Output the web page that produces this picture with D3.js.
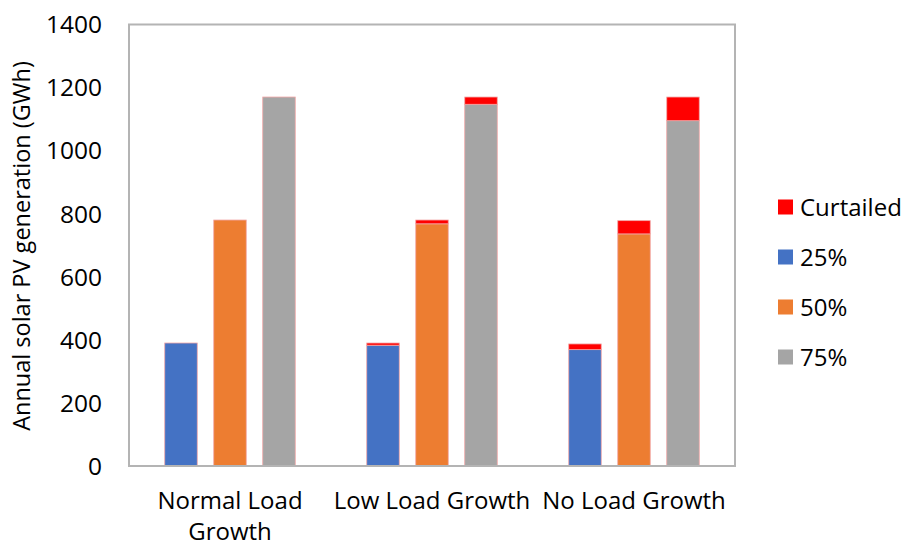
<!DOCTYPE html>
<html><head><meta charset="utf-8">
<script src="https://cdn.jsdelivr.net/npm/d3@7"></script>
<style>body{margin:0;background:#fff}svg{display:block}text{font-family:"Open Sans",Lato,sans-serif;fill:#000}</style>
</head><body>
<svg id="c" width="905" height="547"></svg>
<script>
const categories = ["Normal Load Growth", "Low Load Growth", "No Load Growth"];
const categoryLines = [["Normal Load", "Growth"], ["Low Load Growth"], ["No Load Growth"]];
const seriesNames = ["25%", "50%", "75%"];
const used25 = [390, 383, 369];
const used50 = [780, 768, 736];
const used75 = [1170, 1147, 1095];
const curt25 = [0, 7, 18];
const curt50 = [0, 12, 42];
const curt75 = [0, 23, 75];
const yTicks = [0, 200, 400, 600, 800, 1000, 1200, 1400];
const colors = {"Curtailed": "#ff0000", "25%": "#4472c4", "50%": "#ed7d31", "75%": "#a5a5a5"};
const legendItems = ["Curtailed", "25%", "50%", "75%"];

const svg = d3.select("#c");
const L = 129, R = 735, T = 24.5, B = 466;
const x = d3.scaleBand().domain(categories).range([L, R]);
const sub = d3.scalePoint().domain(seriesNames).range([-49, 49]);
const y = d3.scaleLinear().domain([0, 1400]).range([B, T]);

const used = [used25, used50, used75];
const curt = [curt25, curt50, curt75];
const bars = [];
categories.forEach((c, i) => {
  seriesNames.forEach((s, j) => {
    bars.push({c, s, u: used[j][i], k: curt[j][i]});
  });
});

const bw = 32.5;
const g = svg.append("g");
bars.forEach(b => {
  const cx = x(b.c) + x.bandwidth() / 2 + sub(b.s);
  g.append("rect").attr("x", cx - bw / 2).attr("width", bw)
    .attr("y", y(b.u)).attr("height", y(0) - y(b.u))
    .attr("fill", colors[b.s]).attr("stroke", "#f2a6a6").attr("stroke-width", 0.8);
  if (b.k > 0) {
    g.append("rect").attr("x", cx - bw / 2).attr("width", bw)
      .attr("y", y(b.u + b.k)).attr("height", y(b.u) - y(b.u + b.k))
      .attr("fill", colors["Curtailed"]).attr("stroke", "#f2a6a6").attr("stroke-width", 0.8);
  }
});

// frame
svg.append("rect").attr("x", L).attr("y", T).attr("width", R - L).attr("height", B - T)
  .attr("fill", "none").attr("stroke", "#b4b4b4").attr("stroke-width", 2);

// y tick labels
svg.append("g").selectAll("text").data(yTicks).join("text")
  .attr("x", 102).attr("y", d => y(d)).attr("dy", "0.36em")
  .attr("text-anchor", "end").attr("font-size", 24.5).text(d => d);

// y title
svg.append("text").attr("transform", "translate(30,246) rotate(-90)")
  .attr("text-anchor", "middle").attr("font-size", 23.5).text("Annual solar PV generation (GWh)");

// x labels
categories.forEach((c, i) => {
  const t = svg.append("text").attr("x", x(c) + x.bandwidth() / 2).attr("y", 509)
    .attr("text-anchor", "middle").attr("font-size", 24);
  categoryLines[i].forEach((ln, k) => {
    t.append("tspan").attr("x", x(c) + x.bandwidth() / 2).attr("dy", k === 0 ? 0 : 31).text(ln);
  });
});

// legend
const lg = svg.append("g");
legendItems.forEach((n, i) => {
  const yy = 207 + i * 50;
  lg.append("rect").attr("x", 778).attr("y", yy - 7.5).attr("width", 15).attr("height", 15).attr("fill", colors[n]);
  lg.append("text").attr("x", 800).attr("y", yy).attr("dy", "0.36em").attr("font-size", 24).text(n);
});
</script>
</body></html>
